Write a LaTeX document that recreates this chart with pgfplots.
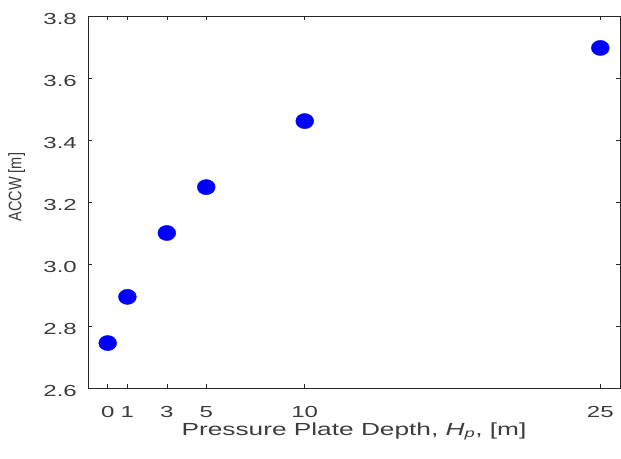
\documentclass[border=0pt]{standalone}
\usepackage{pgfplots}
\pgfplotsset{compat=1.18}
\usepackage{fontspec}
\setmainfont[FakeStretch=1.5]{Liberation Sans}
\newfontfamily\plainsans{Liberation Sans}
\definecolor{axgray}{HTML}{262626}
\definecolor{mblue}{HTML}{0000FF}

\begin{document}
\begin{tikzpicture}
\useasboundingbox (-88bp,-71bp) rectangle (533bp,388bp);
\begin{axis}[
  at={(0,0)}, anchor=south west,
  scale only axis, width=532bp, height=372bp,
  xmin=-1, xmax=26, ymin=2.6, ymax=3.8,
  xtick={0,1,3,5,10,25},
  ytick={2.6,2.8,...,3.8},
  tick align=inside,
  major tick length=4bp,
  axis line style={axgray, line width=0.6pt},
  every tick/.style={axgray, line width=0.6pt},
  tick label style={font=\fontsize{16bp}{18bp}\selectfont, text=axgray!90},
  /pgf/number format/assume math mode=true,
  xticklabel style={anchor=base, inner sep=0pt, yshift=-29bp},
  yticklabel style={anchor=east, inner sep=0pt, xshift=-11bp, yshift=-3bp,
    /pgf/number format/.cd, fixed, fixed zerofill, precision=1},
  xlabel={Pressure Plate Depth, \textit{H}\textsubscript{\textit{p}}, [m]},
  ylabel={\plainsans\fontsize{14.5bp}{17bp}\selectfont\scalebox{1}[1.25]{ACCW [m]}},
  xlabel style={font=\fontsize{17.5bp}{20bp}\selectfont, text=axgray!90,
    at={(axis description cs:0.5,0)}, anchor=base, inner sep=0pt, yshift=-47bp},
  ylabel style={text=axgray!90, at={(axis description cs:-0.118,0.54)},
    anchor=south, inner sep=0pt},
]
\addplot[only marks, mark=*, mark size=8bp, color=mblue,
  mark options={xscale=1.12, yscale=0.95}]
  coordinates {(0,2.745) (1,2.894) (3,3.100) (5,3.248) (10,3.461) (25,3.697)};
\end{axis}
\end{tikzpicture}
\end{document}
